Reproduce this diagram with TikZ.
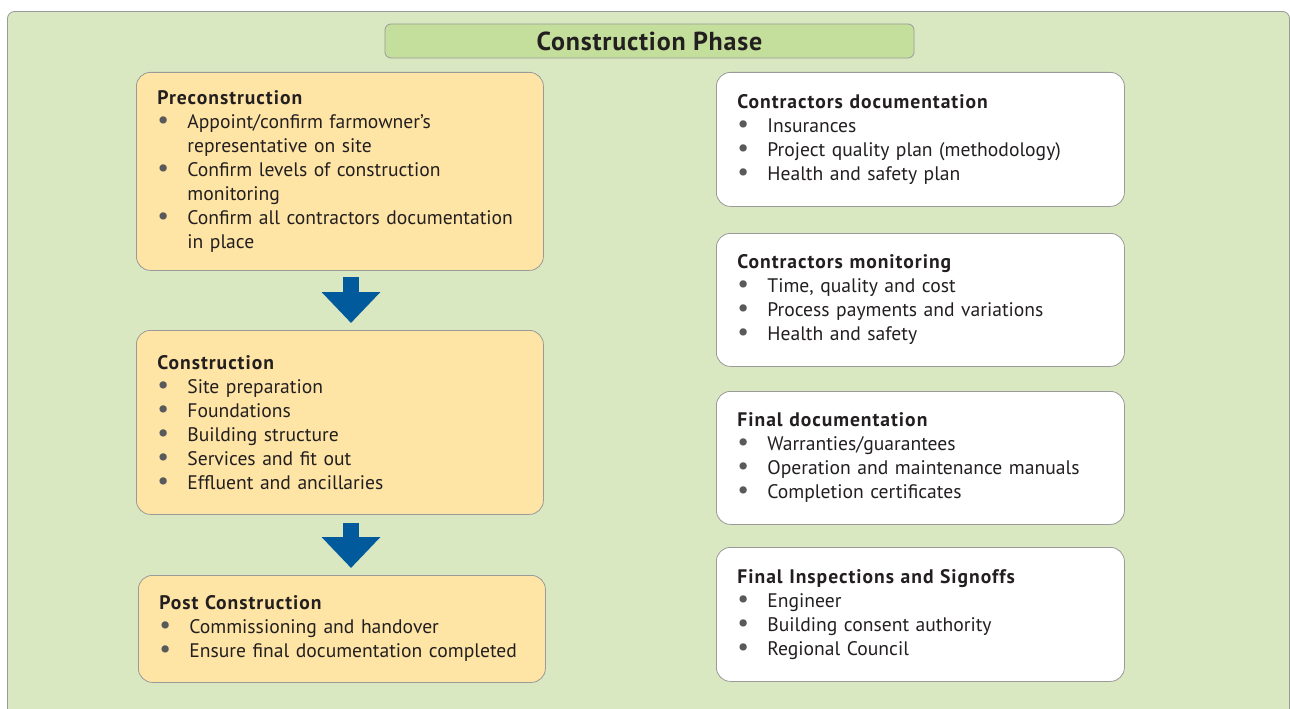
\documentclass[tikz,border=0pt]{standalone}
\usepackage{fontspec}
\setmainfont{PT Sans}
\usetikzlibrary{arrows.meta}

\definecolor{panelgreen}{HTML}{DAE8C1}
\definecolor{titlegreen}{HTML}{C4DF9B}
\definecolor{stageorange}{HTML}{FEE5A5}
\definecolor{arrowblue}{HTML}{005A9C}
\definecolor{edgegray}{HTML}{9A9A9A}
\definecolor{inkgray}{HTML}{231F20}
\definecolor{dotgray}{HTML}{58595B}

% heading, bullet line and continuation line
\newcommand{\head}[1]{{\bfseries\addfontfeature{LetterSpace=5}#1}}
\newcommand{\bul}{\par\noindent\makebox[30pt][l]{\hspace{0pt}\textcolor{dotgray}{\fontsize{26}{24}\selectfont\textbullet}}}
\newcommand{\cont}{\par\noindent\hspace*{30pt}}

\begin{document}
\begin{tikzpicture}[x=1pt,y=-1pt,
    stagebox/.style={draw=edgegray, line width=0.8pt, fill=stageorange,
      rounded corners=14pt, anchor=north west, inner xsep=21pt, inner ysep=0pt,
      text width=365pt, align=left, text=inkgray,
      font=\fontsize{19.6}{24}\selectfont},
    infobox/.style={stagebox, fill=white, text width=366pt},
    titlebox/.style={draw=edgegray, line width=0.8pt, fill=titlegreen,
      rounded corners=6pt, minimum width=529pt, minimum height=34pt,
      text=inkgray, font=\fontsize{26}{28}\selectfont\bfseries\addfontfeature{LetterSpace=3}},
    downarrow/.style={draw=arrowblue, line width=16pt,
      -{Triangle[width=57pt,length=31pt]}}]
    \useasboundingbox (0,0) rectangle (1290,709);
    \clip (0,0) rectangle (1290,709);
    \fill[white] (0,0) rectangle (1290,709);
    \draw[draw=edgegray, fill=panelgreen, line width=0.8pt, rounded corners=7pt]
      (7.5,11.5) rectangle (1289.5,740);

    \node[titlebox] (title) at (649.5,41) {Construction Phase};

    % stages on the left
    \node[stagebox, minimum height=198pt] (pre) at (136,72)
      {\head{Preconstruction}\bul Appoint/confirm farmowner’s\cont representative on site\bul Confirm levels of construction\cont monitoring\bul Confirm all contractors documentation\cont in place};
    \node[stagebox, minimum height=184pt] (con) at (136,330)
      {\head{Construction}\bul Site preparation\bul Foundations\bul Building structure\bul Services and fit out\bul Effluent and ancillaries};
    \node[stagebox, minimum height=107pt] (post) at (138,575)
      {\head{Post Construction}\bul Commissioning and handover\bul Ensure final documentation completed};

    \draw[downarrow] ([xshift=215pt,yshift=-6pt]pre.south west) -- ([xshift=215pt,yshift=7pt]con.north west);
    \draw[downarrow] ([xshift=215pt,yshift=-8pt]con.south west) -- ([xshift=213pt,yshift=7pt]post.north west);

    % checks on the right
    \node[infobox, minimum height=134pt] (cdoc) at (716,72)
      {\head{Contractors documentation}\bul Insurances\bul Project quality plan (methodology)\bul Health and safety plan};
    \node[infobox, minimum height=133pt] (cmon) at (716,233)
      {\head{Contractors monitoring}\bul Time, quality and cost\bul Process payments and variations\bul Health and safety};
    \node[infobox, minimum height=133pt] (fdoc) at (716,391)
      {\head{Final documentation}\bul Warranties/guarantees\bul Operation and maintenance manuals\bul Completion certificates};
    \node[infobox, minimum height=134pt] (finsp) at (716,547)
      {\head{Final Inspections and Signoffs}\bul Engineer\bul Building consent authority\bul Regional Council};
\end{tikzpicture}
\end{document}
